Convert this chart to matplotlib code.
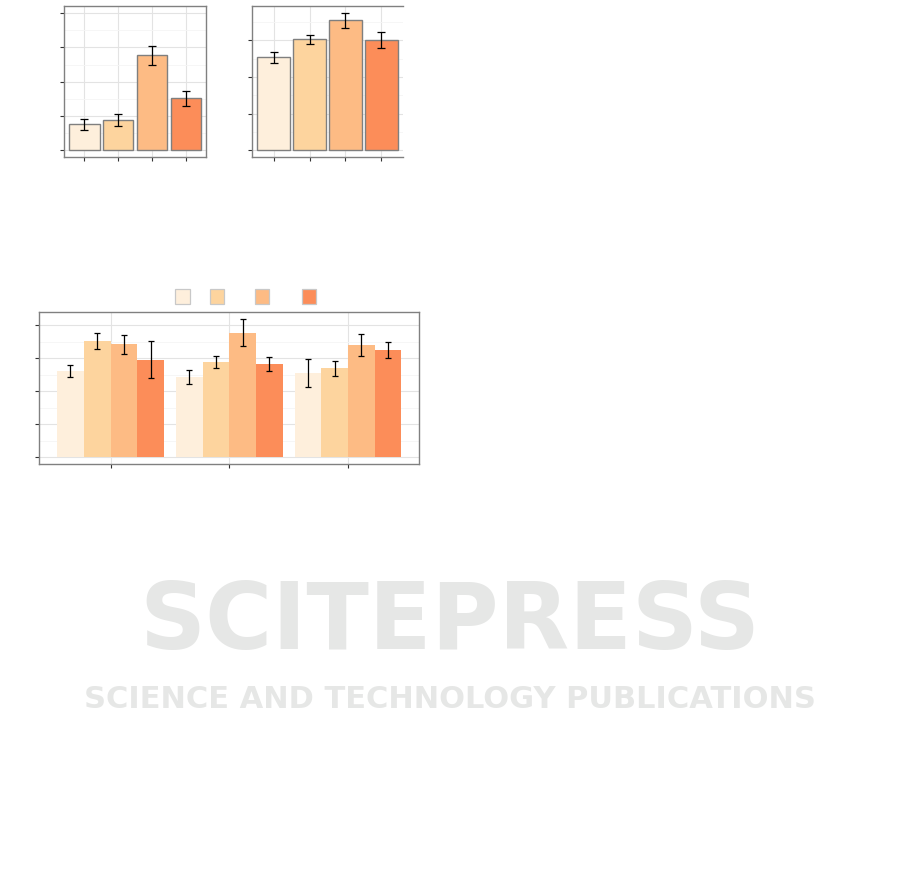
import matplotlib
matplotlib.use('Agg')
import matplotlib.pyplot as plt
from matplotlib.patches import Rectangle
import numpy as np

# data (units = one y tick step)
colors = ['#feefdc', '#fdd49e', '#fdbb84', '#fc8d59']

p1_vals = [0.76, 0.875, 2.77, 1.52]
p1_err = [0.16, 0.175, 0.28, 0.22]

p2_vals = [2.53, 3.02, 3.54, 3.00]
p2_err = [0.16, 0.12, 0.20, 0.22]

groups = [1, 2, 3]
s1_vals = [2.615, 2.43, 2.55]
s2_vals = [3.52, 2.89, 2.70]
s3_vals = [3.43, 3.77, 3.40]
s4_vals = [2.95, 2.83, 3.25]
s1_err = [0.18, 0.21, 0.42]
s2_err = [0.24, 0.18, 0.23]
s3_err = [0.29, 0.41, 0.33]
s4_err = [0.56, 0.21, 0.24]

W, H = 901, 884
fig = plt.figure(figsize=(W / 100, H / 100), dpi=100)


def px_axes(left, top, right, bottom):
    return fig.add_axes([left / W, 1 - bottom / H, (right - left) / W, (bottom - top) / H])


def style(ax, yticks, yminor, xticks, ylim, xlim):
    ax.set_xlim(xlim)
    ax.set_ylim(ylim)
    ax.set_yticks(yticks)
    ax.set_yticks(yminor, minor=True)
    ax.set_xticks(xticks)
    ax.set_yticklabels([])
    ax.set_xticklabels([])
    ax.tick_params(which='major', length=2.8, width=0.8, color='#333333', direction='out')
    ax.tick_params(which='minor', length=0)
    ax.grid(which='major', color='#e3e3e3', linewidth=0.8)
    ax.grid(which='minor', axis='y', color='#f5f5f5', linewidth=0.6)
    ax.set_axisbelow(True)
    for s in ax.spines.values():
        s.set_color('#808080')
        s.set_linewidth(1.0)


# panel 1
ax1 = px_axes(64, 6, 206, 157)
x = np.arange(1, 5)
ax1.bar(x, p1_vals, width=0.9, color=colors, edgecolor='#7f7f7f', linewidth=1.0)
ax1.errorbar(x, p1_vals, yerr=p1_err, fmt='none', ecolor='black', elinewidth=0.9, capsize=2.9, capthick=0.9)
style(ax1, [0, 1, 2, 3, 4], [0.5, 1.5, 2.5, 3.5], x, (-0.195, 4.207), (0.4, 4.6))

# panel 2 (cut off on the right)
ax2 = px_axes(252, 6, 403, 157.3)
ax2.bar(x, p2_vals, width=0.9, color=colors, edgecolor='#7f7f7f', linewidth=1.0)
ax2.errorbar(x, p2_vals, yerr=p2_err, fmt='none', ecolor='black', elinewidth=0.9, capsize=2.8, capthick=0.9)
style(ax2, [0, 1, 2, 3], [0.5, 1.5, 2.5, 3.5], x, (-0.19, 3.93), (0.4, 4.6))
ax2.spines['right'].set_visible(False)

# panel 3, grouped bars
ax3 = px_axes(39.3, 312.3, 419.3, 464.3)
series = [s1_vals, s2_vals, s3_vals, s4_vals]
errs = [s1_err, s2_err, s3_err, s4_err]
bw = 0.225
g = np.array(groups, dtype=float)
for i in range(4):
    xs = g + (i - 1.5) * bw
    ax3.bar(xs, series[i], width=bw, color=colors[i], linewidth=0)
    ax3.errorbar(xs, series[i], yerr=errs[i], fmt='none', ecolor='black', elinewidth=0.9, capsize=2.2, capthick=0.9)
style(ax3, [0, 1, 2, 3, 4], [0.5, 1.5, 2.5, 3.5], groups, (-0.212, 4.394), (0.4, 3.6))

# legend keys (labels are absent in the picture)
for left, c in zip([175.3, 209.5, 254.7, 301.5], colors):
    fig.patches.append(Rectangle((left / W, 1 - 304.2 / H), 14.5 / W, 14.8 / H,
                                 transform=fig.transFigure, facecolor=c,
                                 edgecolor='#c8c8c8', linewidth=0.9))

# publisher watermark (display coords measured from the bottom)
fig.text(450, H - 623, 'SCITEPRESS', transform=None, ha='center', va='center',
         fontsize=66, fontweight='bold', color='#e6e7e6', zorder=0)
fig.text(450, H - 699, 'SCIENCE AND TECHNOLOGY PUBLICATIONS', transform=None, ha='center', va='center',
         fontsize=22, fontweight='bold', color='#e6e7e6', zorder=0)

fig.savefig('out.png', dpi=100)
